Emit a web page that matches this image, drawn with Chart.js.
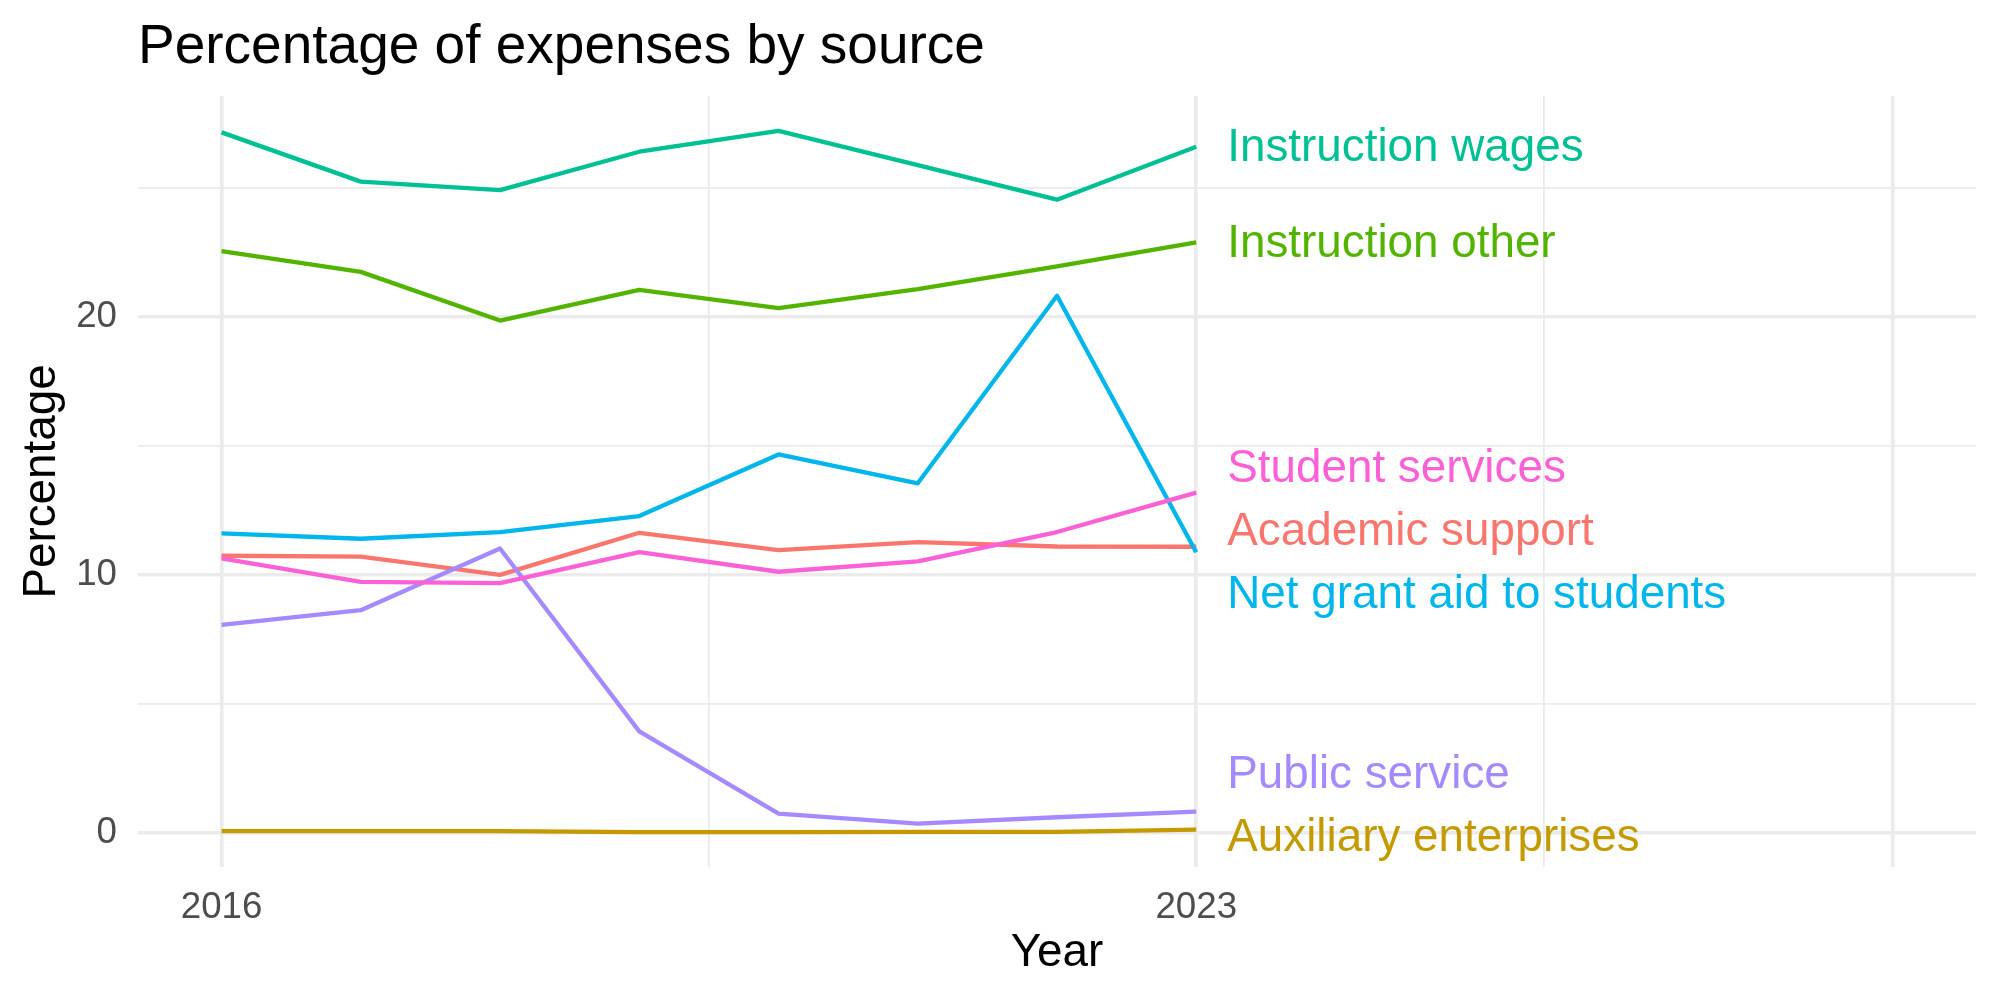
<!DOCTYPE html>
<html>
<head>
<meta charset="utf-8">
<script src="https://cdn.jsdelivr.net/npm/chart.js@4"></script>
<style>
    body { margin: 0; background: #ffffff; }
    canvas { display: block; }
</style>
</head>
<body>
<canvas id="expenseChart" width="2000" height="1000"></canvas>
<script>
const years = [2016, 2017, 2018, 2019, 2020, 2021, 2022, 2023];

const seriesNames = [
    "Academic support",
    "Auxiliary enterprises",
    "Instruction other",
    "Instruction wages",
    "Net grant aid to students",
    "Public service",
    "Student services",
];

const academicSupport = [10.74, 10.71, 10.0, 11.63, 10.96, 11.27, 11.1, 11.09];
const auxiliaryEnterprises = [0.06, 0.06, 0.06, 0.02, 0.02, 0.03, 0.03, 0.12];
const instructionOther = [22.55, 21.75, 19.86, 21.05, 20.34, 21.08, 21.96, 22.89];
const instructionWages = [27.16, 25.25, 24.92, 26.41, 27.22, 25.89, 24.55, 26.6];
const netGrantAid = [11.61, 11.4, 11.66, 12.28, 14.67, 13.55, 20.82, 10.88];
const publicService = [8.06, 8.63, 11.02, 3.93, 0.74, 0.35, 0.6, 0.82];
const studentServices = [10.64, 9.73, 9.68, 10.88, 10.12, 10.52, 11.66, 13.19];

const xMajorTicks = [2016, 2023, 2028];
const xMinorTicks = [2019.5, 2025.5];
const xTickLabels = ["2016", "2023", ""];
const yMajorTicks = [0, 10, 20];
const yMinorTicks = [5, 15, 25];
const yTickLabels = ["0", "10", "20"];

const seriesValues = [
    academicSupport,
    auxiliaryEnterprises,
    instructionOther,
    instructionWages,
    netGrantAid,
    publicService,
    studentServices,
];
const seriesColors = ["#F8766D", "#C49A00", "#53B400", "#00C094", "#00B6EB", "#A58AFF", "#FB61D7"];

const FONT = '"Liberation Sans", Arial, Helvetica, sans-serif';
const GRID = "#EBEBEB";

function tickList(major, minor) {
    return major.concat(minor).sort((a, b) => a - b).map(v => ({value: v}));
}

function tickLabel(value, major, labels) {
    const i = major.indexOf(value);
    return i >= 0 ? labels[i] : "";
}

// end labels, pushed apart like ggrepel
const endLabels = {
    id: "endLabels",
    afterDatasetsDraw(chart) {
        const ctx = chart.ctx;
        const xs = chart.scales.x;
        const ys = chart.scales.y;
        const area = chart.chartArea;
        const gap = 63;
        const half = 31;
        const last = years.length - 1;

        let items = seriesNames.map((name, i) => ({
            name: name,
            color: seriesColors[i],
            target: ys.getPixelForValue(seriesValues[i][last]),
        }));
        items.sort((a, b) => a.target - b.target);

        let groups = items.map(it => ({members: [it], center: it.target}));
        let moved = true;
        while (moved) {
            moved = false;
            for (const g of groups) {
                const n = g.members.length;
                const mean = g.members.reduce((s, m) => s + m.target, 0) / n;
                let top = mean - (n - 1) * gap / 2;
                top = Math.max(top, area.top + half);
                top = Math.min(top, area.bottom - half - (n - 1) * gap);
                g.top = top;
                g.bottom = top + (n - 1) * gap;
            }
            for (let i = 0; i < groups.length - 1; i++) {
                if (groups[i + 1].top - groups[i].bottom < gap - 0.01) {
                    groups[i].members = groups[i].members.concat(groups[i + 1].members);
                    groups.splice(i + 1, 1);
                    moved = true;
                    break;
                }
            }
        }

        const x = xs.getPixelForValue(years[last]) + 31;
        ctx.save();
        ctx.font = "45.8px " + FONT;
        ctx.textAlign = "left";
        ctx.textBaseline = "middle";
        for (const g of groups) {
            g.members.forEach((m, k) => {
                ctx.fillStyle = m.color;
                ctx.fillText(m.name, x, g.top + k * gap + 2);
            });
        }
        ctx.restore();
    },
};

// title and axis titles
const plotTexts = {
    id: "plotTexts",
    afterDraw(chart) {
        const ctx = chart.ctx;
        const area = chart.chartArea;
        ctx.save();
        ctx.fillStyle = "#000000";
        ctx.textBaseline = "alphabetic";

        ctx.font = "55px " + FONT;
        ctx.textAlign = "left";
        ctx.fillText("Percentage of expenses by source", area.left, 63);

        ctx.font = "45.8px " + FONT;
        ctx.textAlign = "center";
        ctx.fillText("Year", (area.left + area.right) / 2, 966);

        ctx.translate(55, (area.top + area.bottom) / 2);
        ctx.rotate(-Math.PI / 2);
        ctx.fillText("Percentage", 0, 0);
        ctx.restore();
    },
};

const datasets = seriesNames.map((name, i) => ({
    label: name,
    data: years.map((yr, k) => ({x: yr, y: seriesValues[i][k]})),
    borderColor: seriesColors[i],
    backgroundColor: seriesColors[i],
    borderWidth: 4.3,
    borderCapStyle: "butt",
    borderJoinStyle: "round",
    pointRadius: 0,
    tension: 0,
    fill: false,
    order: seriesNames.length - i,
}));

const ctx = document.getElementById("expenseChart").getContext("2d");
new Chart(ctx, {
    type: "line",
    data: {datasets: datasets},
    options: {
        responsive: false,
        animation: false,
        layout: {
            padding: {top: 96, right: 24, bottom: 0, left: 0},
        },
        plugins: {
            legend: {display: false},
            title: {display: false},
            tooltip: {enabled: false},
        },
        scales: {
            x: {
                type: "linear",
                min: 2015.4,
                max: 2028.6,
                afterBuildTicks: function (scale) {
                    scale.ticks = tickList(xMajorTicks, xMinorTicks);
                },
                afterFit: function (scale) {
                    scale.height = 133;
                },
                border: {display: false},
                grid: {
                    color: GRID,
                    drawTicks: false,
                    lineWidth: function (c) {
                        return xMajorTicks.includes(c.tick.value) ? 3.6 : 1.8;
                    },
                },
                ticks: {
                    autoSkip: false,
                    maxRotation: 0,
                    padding: 19,
                    color: "#4D4D4D",
                    font: {family: FONT, size: 36.7},
                    callback: function (value) {
                        return tickLabel(value, xMajorTicks, xTickLabels);
                    },
                },
            },
            y: {
                type: "linear",
                min: -1.33,
                max: 28.57,
                afterBuildTicks: function (scale) {
                    scale.ticks = tickList(yMajorTicks, yMinorTicks);
                },
                afterFit: function (scale) {
                    scale.width = 138;
                },
                border: {display: false},
                grid: {
                    color: GRID,
                    drawTicks: false,
                    lineWidth: function (c) {
                        return yMajorTicks.includes(c.tick.value) ? 3.6 : 1.8;
                    },
                },
                ticks: {
                    autoSkip: false,
                    padding: 21,
                    color: "#4D4D4D",
                    font: {family: FONT, size: 36.7},
                    callback: function (value) {
                        return tickLabel(value, yMajorTicks, yTickLabels);
                    },
                },
            },
        },
    },
    plugins: [endLabels, plotTexts],
});
</script>
</body>
</html>
